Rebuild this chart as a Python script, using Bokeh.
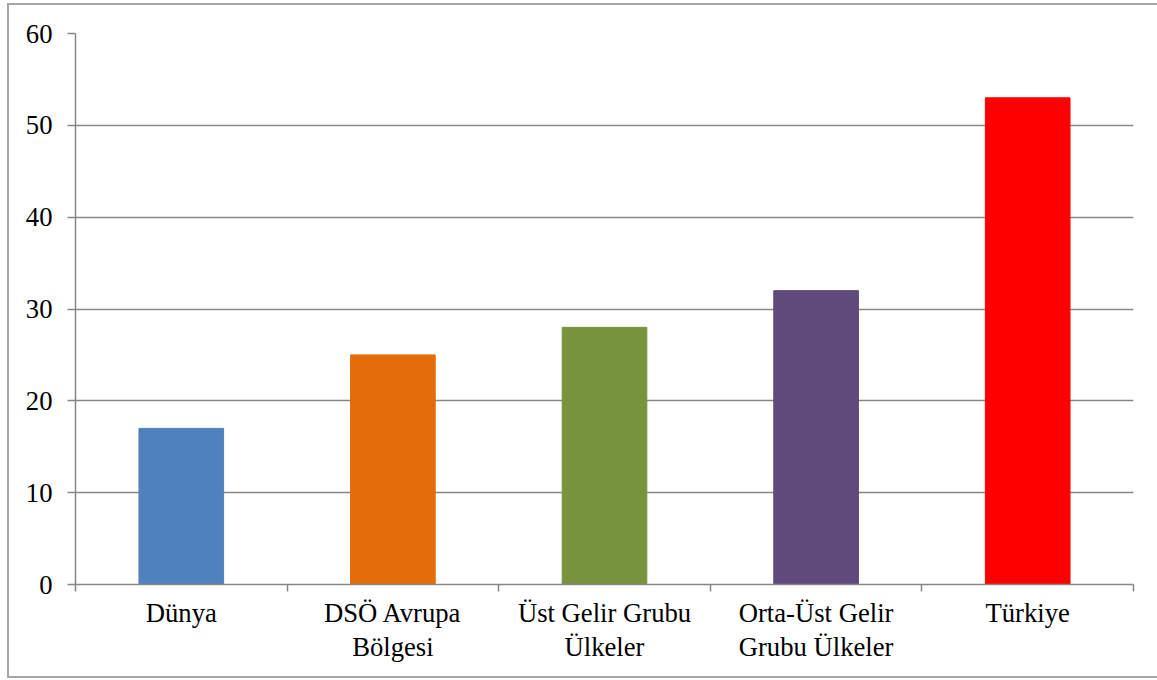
from bokeh.plotting import figure
from bokeh.models import ColumnDataSource, LinearAxis, FixedTicker, Range1d, Grid
from bokeh.embed import file_html
from bokeh.resources import INLINE

categories = ["Dünya", "DSÖ Avrupa\nBölgesi", "Üst Gelir Grubu\nÜlkeler",
              "Orta-Üst Gelir\nGrubu Ülkeler", "Türkiye"]
values = [17, 25, 28, 32, 53]
colors = ["#4F81BD", "#E46C0A", "#77933C", "#604A7B", "#FF0000"]
y_ticks = [0, 10, 20, 30, 40, 50, 60]

FONT = "Liberation Serif"
FS = "26.67px"
GRID = "#868686"

n = len(categories)
centers = [i + 0.5 for i in range(n)]
src = ColumnDataSource(dict(x=centers, top=values, color=colors))

p = figure(frame_width=1058, frame_height=551,
           min_border_left=66, min_border_right=24, min_border_top=28, min_border_bottom=92,
           x_range=Range1d(0, n), y_range=Range1d(0, 60),
           x_axis_location=None, y_axis_location=None,
           output_backend="svg", toolbar_location=None, tools="")
p.outline_line_color = None
p.background_fill_color = "white"
p.border_fill_color = "white"
p.styles = {"border-left": "2px solid #A6A6A6", "border-top": "2px solid #A6A6A6",
            "border-bottom": "2px solid #A6A6A6", "margin-left": "7px",
            "margin-top": "3px"}

p.vbar(x="x", top="top", bottom=0, width=0.4, color="color", source=src)

# y axis
ya = LinearAxis(ticker=FixedTicker(ticks=y_ticks))
ya.axis_line_color = GRID
ya.axis_line_width = 1.5
ya.major_tick_line_color = GRID
ya.major_tick_line_width = 1.5
ya.major_tick_out = 8
ya.major_tick_in = 0
ya.minor_tick_line_color = None
ya.major_label_standoff = 15
ya.major_label_text_font = FONT
ya.major_label_text_font_size = FS
ya.major_label_text_color = "black"
p.add_layout(ya, "left")

# x axis: boundary ticks
xa1 = LinearAxis(ticker=FixedTicker(ticks=list(range(n + 1))))
xa1.axis_line_color = GRID
xa1.axis_line_width = 1.5
xa1.major_tick_line_color = GRID
xa1.major_tick_line_width = 1.5
xa1.major_tick_out = 7
xa1.major_tick_in = 0
xa1.minor_tick_line_color = None
xa1.major_label_overrides = {i: "" for i in range(n + 1)}
xa1.major_label_text_font_size = "1px"
xa1.major_label_standoff = 0
p.add_layout(xa1, "below")

# x axis: category labels
xa2 = LinearAxis(ticker=FixedTicker(ticks=centers))
xa2.axis_line_color = None
xa2.major_tick_line_color = None
xa2.minor_tick_line_color = None
xa2.major_tick_out = 0
xa2.major_tick_in = 0
xa2.major_label_standoff = 6
xa2.major_label_overrides = {c: lab for c, lab in zip(centers, categories)}
xa2.major_label_text_font = FONT
xa2.major_label_text_font_size = FS
xa2.major_label_text_color = "black"
xa2.major_label_text_line_height = 1.15
p.add_layout(xa2, "below")

p.xgrid.visible = False
g = Grid(dimension=1, ticker=FixedTicker(ticks=y_ticks), grid_line_color=GRID, grid_line_width=1.5)
p.add_layout(g)

open("out.html", "w").write(file_html(p, INLINE))
